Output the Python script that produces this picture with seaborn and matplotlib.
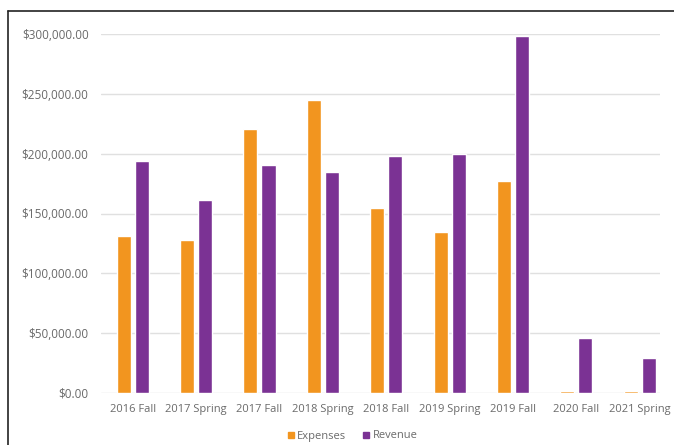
import matplotlib
matplotlib.use("Agg")
import matplotlib.pyplot as plt
import seaborn as sns
import pandas as pd
from matplotlib.lines import Line2D
from matplotlib.ticker import FuncFormatter

terms = ["2016 Fall", "2017 Spring", "2017 Fall", "2018 Spring", "2018 Fall",
         "2019 Spring", "2019 Fall", "2020 Fall", "2021 Spring"]
expenses = [131000, 128000, 221000, 245000, 154500, 134500, 177000, 2000, 2000]
revenue = [194000, 161000, 190500, 184500, 198000, 200000, 298000, 46000, 29500]
series = ["Expenses", "Revenue"]
colors = ["#F2951F", "#7B3294"]

df = pd.DataFrame({
    "Term": terms * 2,
    "Series": [series[0]] * len(terms) + [series[1]] * len(terms),
    "Amount": expenses + revenue,
})

sns.set_theme(style="white")
plt.rcParams["font.family"] = ["Open Sans", "DejaVu Sans"]

fig = plt.figure(figsize=(6.74, 4.45), dpi=100)
ax = fig.add_axes([101 / 674, (445 - 393) / 445, (660 - 101) / 674, (393 - 34) / 445])

sns.barplot(data=df, x="Term", y="Amount", hue="Series", palette=colors,
            width=0.57, gap=0.22, ax=ax, legend=False, saturation=1)

ax.set_xlim(-0.5, 8.32)
ax.set_ylim(0, 300000)
ax.set_yticks(range(0, 300001, 50000))
ax.yaxis.set_major_formatter(FuncFormatter(lambda v, p: f"${v:,.2f}"))
ax.grid(axis="y", color="#E0E0E0", linewidth=1.0)
ax.set_axisbelow(True)
for s in ax.spines.values():
    s.set_visible(False)
ax.set_xlabel("")
ax.set_ylabel("")
ax.tick_params(axis="both", length=0, colors="#6A6A6A")
ax.tick_params(axis="y", pad=9, labelsize=8.5)
ax.tick_params(axis="x", pad=8, labelsize=8)

handles = [Line2D([], [], marker="s", linestyle="none", markersize=5,
                  markerfacecolor=c, markeredgecolor=c) for c in colors]
leg = fig.legend(handles, series, loc="center", bbox_to_anchor=(352 / 674, 1 - 436 / 445),
                 ncol=2, frameon=False, fontsize=8, handletextpad=0.2,
                 columnspacing=1.4, handlelength=0.8)
for t in leg.get_texts():
    t.set_color("#6A6A6A")

# outer chart frame (left and top edges visible)
fig.add_artist(Line2D([8 / 674, 8 / 674], [0, 1 - 11 / 445], transform=fig.transFigure,
                      color="#222222", linewidth=1.2))
fig.add_artist(Line2D([8 / 674, 1], [1 - 11 / 445, 1 - 11 / 445], transform=fig.transFigure,
                      color="#222222", linewidth=1.2))

fig.savefig("out.png", dpi=100)
